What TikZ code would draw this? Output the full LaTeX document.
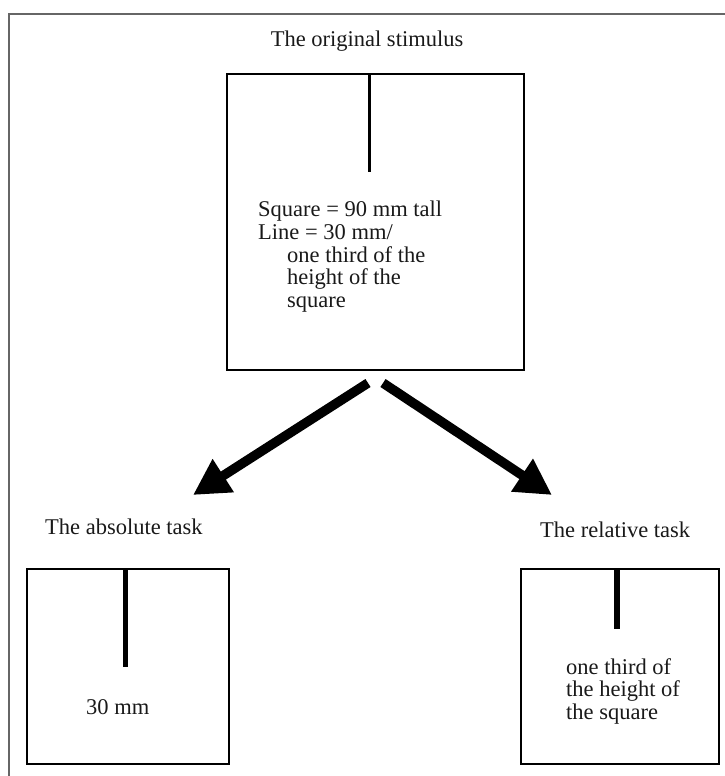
\documentclass[tikz,border=0pt]{standalone}
\usepackage{fontspec}
\setmainfont{Liberation Serif}
\usetikzlibrary{arrows.meta}
\tikzset{
  sq/.style={draw=black, line width=2.6pt, inner sep=0pt},
  lbl/.style={inner sep=0pt, font=\fontsize{22.5}{22.7}\selectfont, text=black!90},
  stem/.style={line width=#1, line cap=butt},
  bigarrow/.style={line width=9.5pt, -{Triangle[length=36pt,width=37pt]}},
  frame/.style={draw=black!60, line width=1.6pt}
}
\begin{document}
\begin{tikzpicture}[x=1pt,y=-1pt]
\useasboundingbox (0,0) rectangle (725,776);
% outer frame (clipped at right and bottom)
\draw[frame] (9,776) -- (9,14) -- (725,14);

% top square
\node[lbl, anchor=base] (t1) at (367,47) {The original stimulus};
\node[sq, minimum width=297pt, minimum height=296pt] (orig) at (375.5,222) {};
\coordinate (oL1) at (369,74);
\coordinate (oL2) at (369,172);
\draw[stem=3pt] (oL1) -- (oL2);
% base anchor of a multi-line node = baseline of its last line
\node[lbl, anchor=base west, align=left] (otext) at (258,307.5)
  {Square = 90 mm tall\\Line = 30 mm/\\\hspace*{29pt}one third of the\\\hspace*{29pt}height of the\\\hspace*{29pt}square};

% arrows
\coordinate (a1s) at (368,383);
\coordinate (a1e) at (193,495);
\coordinate (a2s) at (383,383);
\coordinate (a2e) at (552,495);
\draw[bigarrow] (a1s) -- (a1e);
\draw[bigarrow] (a2s) -- (a2e);

% absolute task
\node[lbl, anchor=base west] (t2) at (45,534) {The absolute task};
\node[sq, minimum width=202pt, minimum height=195pt] (abs) at (128,666.5) {};
\coordinate (bL1) at (125,569);
\coordinate (bL2) at (125,667);
\draw[stem=5pt] (bL1) -- (bL2);
\node[lbl, anchor=base west] (btext) at (86,714) {30 mm};

% relative task
\node[lbl, anchor=base west] (t3) at (540,537) {The relative task};
\node[sq, minimum width=198pt, minimum height=195pt] (rel) at (620,666.5) {};
\coordinate (rL1) at (617,569);
\coordinate (rL2) at (617,629);
\draw[stem=6pt] (rL1) -- (rL2);
\node[lbl, anchor=base west, align=left] (rtext) at (566,719.4)
  {one third of\\the height of\\the square};
\end{tikzpicture}
\end{document}
